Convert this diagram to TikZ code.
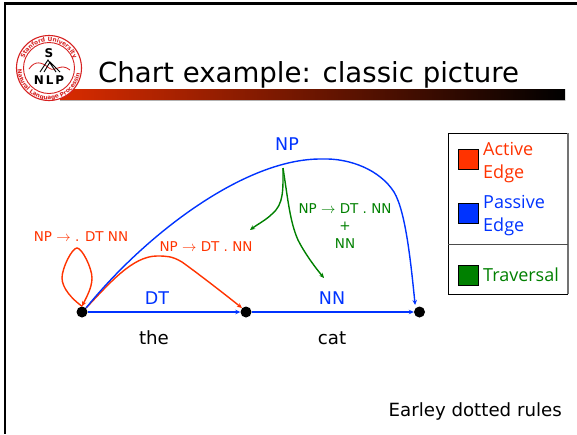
\documentclass[tikz,border=0pt]{standalone}
\usepackage{fontspec}
\setmainfont{DejaVu Sans}
\newfontfamily\tah{Open Sans}
\usetikzlibrary{arrows.meta,decorations.text}
\definecolor{actred}{RGB}{255,51,0}
\definecolor{pasblue}{RGB}{0,51,255}
\definecolor{trvgrn}{RGB}{0,128,0}
\definecolor{logored}{RGB}{214,32,32}
\tikzset{
  ar/.style ={-{Stealth[length=5pt,width=4.5pt]},line width=1.4pt},
  act/.style={ar,draw=actred},
  pas/.style={ar,draw=pasblue},
  trv/.style={ar,draw=trvgrn},
  dot/.style={circle,fill=black,inner sep=0pt,minimum size=11pt},
  lbl/.style={font=\fontsize{13.5}{17.5}\selectfont,inner sep=0pt,align=center},
  big/.style={font=\fontsize{17.5}{20}\selectfont,inner sep=0pt},
  wrd/.style={font=\fontsize{18.2}{20}\selectfont,inner sep=0pt},
  leg/.style={font=\tah\fontsize{18}{23}\selectfont,inner sep=0pt,align=left,anchor=west},
  swt/.style={draw=black,line width=1pt,minimum size=20pt,inner sep=0pt},
  ringtxt/.style={postaction={decorate,decoration={text along path,text align=center,
        text={|\fontsize{5.8}{7}\selectfont\bfseries\color{logored}|#1}}}},
  logotxt/.style={font=\bfseries\fontsize{12}{13}\selectfont,inner sep=0pt},
}
\begin{document}
\begin{tikzpicture}[x=1pt,y=-1pt]
  \useasboundingbox (0,0) rectangle (577,434);
  % frame of the slide
  \draw[line width=2.4pt] (577,3.5)--(5,3.5)--(5,434);
  % title and bar
  \node[font=\fontsize{27.6}{32}\selectfont,anchor=base west,inner sep=0pt] (title) at (98,82){Chart example: classic picture};
  \shade[left color=actred!85!black,right color=black] (60,89) rectangle (565,100);
  \draw[black!30,line width=.6pt] (60,100.5)--(565,100.5);
  % logo
  \draw[logored,fill=white,line width=1.1pt] (49,68) circle (32.5);
  \draw[logored,line width=.9pt] (49,68) circle (25.5);
  \path[ringtxt=Stanford University] (22.9,63.4) arc[start angle=190,end angle=350,radius=26.5];
  \path[ringtxt=Natural Language Processing] (18,73.5) arc[start angle=170,end angle=10,radius=31.5];
  \draw[logored,line width=.8pt] (29,69) .. controls (35,60) and (42,62) .. (49,68) .. controls (56,73) and (60,62) .. (70,70);
  \draw[line width=.9pt] (40,72)--(48,60)--(56,72) (44,72)--(50,62)--(60,72);
  \node[logotxt] (logos) at (49,53){S};
  \node[logotxt] (logon) at (49,80){N\,L\,P};
  % chart
  \node[dot] (n0) at (82,312){};
  \node[dot] (n1) at (246,312){};
  \node[dot] (n2) at (419.5,312){};
  \draw[pas] (n0)--(n1);
  \draw[pas] (n1)--(n2);
  \draw[act] (n0.north) .. controls (72,299) and (62,288) .. (62,278) .. controls (62,268) and (72,248) .. (77,248)
             .. controls (82,248) and (92,268) .. (92,278) .. controls (92,288) and (86,298) .. (n0.north);
  \draw[act] (n0.north east) .. controls (108,285) and (132,256) .. (157,256) .. controls (166,256) and (172,256) .. (182,262) .. controls (196,272) and (222,292) .. (n1.north west);
  \draw[pas,shorten >=3pt] (n0.north east) .. controls (145,235) and (245,158) .. (322,159) .. controls (350,158) and (380,170) .. (394,192) .. controls (406,212) and (411,265) .. (n2.north west);
  \node[big,text=pasblue] (npl) at (287,144){NP};
  \coordinate (tr) at (283,168);
  \draw[trv] (tr) .. controls (283,190) and (284,204) .. (272,214) .. controls (266,220) and (258,224) .. (250,230);
  \draw[trv] (tr) .. controls (288,200) and (290,222) .. (298,240) .. controls (304,252) and (314,266) .. (324,278);
  \node[lbl,text=actred] (actl) at (81,237){NP $\rightarrow$ . DT NN};
  \node[lbl,text=actred] (actm) at (206,247){NP $\rightarrow$ DT . NN};
  \node[lbl,text=trvgrn] (trvl) at (345,226){NP $\rightarrow$ DT . NN\\+\\NN};
  \node[big,text=pasblue] (dtl) at (157,298){DT};
  \node[big,text=pasblue] (nnl) at (332,298){NN};
  \node[wrd] (the) at (154,338){the};
  \node[wrd] (cat) at (332,338){cat};
  \node[wrd,anchor=east] (rules) at (562,411){Earley dotted rules};
  % legend
  \draw[line width=1pt,fill=white] (568,294)--(448,294)--(448,133)--(568,133);
  \draw[black!55,line width=1.2pt] (568,133)--(568,294);
  \draw[black!70,line width=1pt] (448,244)--(568,244);
  \node[swt,fill=actred] (ka) at (468,159.5){};
  \node[swt,fill=pasblue] (kp) at (468,213){};
  \node[swt,fill=trvgrn] (kt) at (468,275.5){};
  \node[leg,text=actred,text width=70pt] (la) at (483,162.5){Active\\Edge};
  \node[leg,text=pasblue,text width=70pt] (lp) at (483,215.5){Passive\\Edge};
  \node[leg,text=trvgrn] (lt) at (483,274.5){Traversal};
\end{tikzpicture}
\end{document}
